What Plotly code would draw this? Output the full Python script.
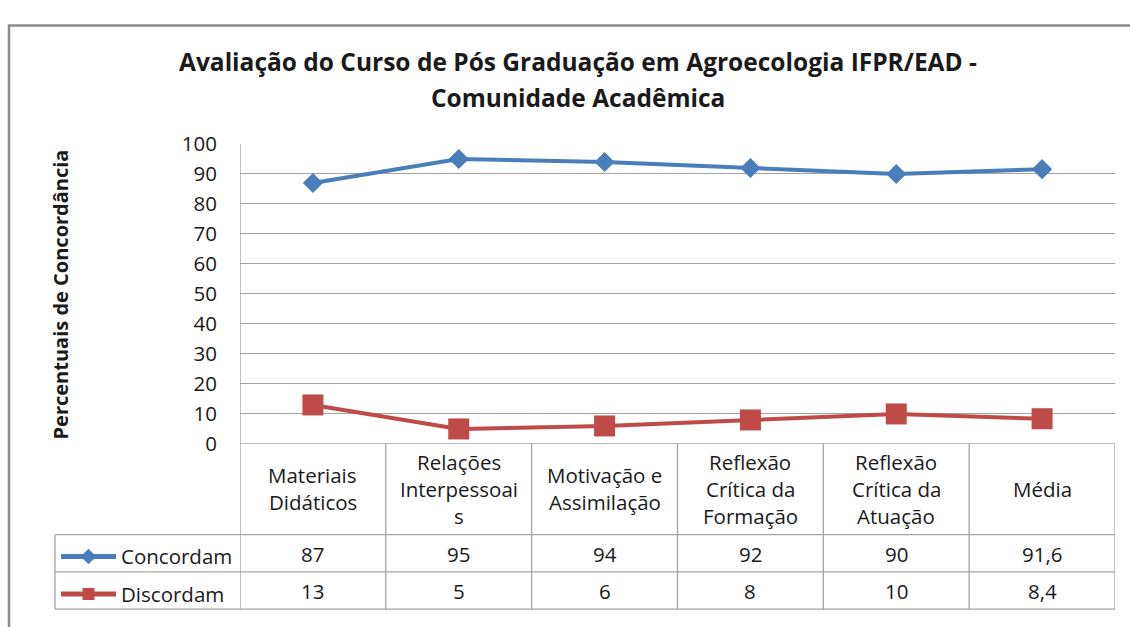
import plotly.graph_objects as go

# ---------------- data ----------------
categories = [
    "Materiais\nDidáticos",
    "Relações\nInterpessoai\ns",
    "Motivação e\nAssimilação",
    "Reflexão\nCrítica da\nFormação",
    "Reflexão\nCrítica da\nAtuação",
    "Média",
]
series_names = ["Concordam", "Discordam"]
concordam = [87, 95, 94, 92, 90, 91.6]
discordam = [13, 5, 6, 8, 10, 8.4]
y_ticks = [0, 10, 20, 30, 40, 50, 60, 70, 80, 90, 100]
title_lines = [
    "Avaliação do Curso de Pós Graduação em Agroecologia IFPR/EAD -",
    "Comunidade Acadêmica",
]
y_title = "Percentuais de Concordância"

# ---------------- styles ----------------
W, H = 1130, 627
FONT = "Open Sans"
TXT = "#1a1a1a"
GRID = "#a3a3a3"
BLUE = "#4a7ebb"
RED = "#be4b48"
FS = 20.5


def px(x):
    return x / W


def py(y):
    return 1 - y / H


def fmt(v):
    return f"{v:g}".replace(".", ",")


n = len(categories)
xs = list(range(n))
values = [concordam, discordam]
colors = [BLUE, RED]
symbols = ["diamond", "square"]
msizes = [15.5, 21]

fig = go.Figure()
for i, (name, vals) in enumerate(zip(series_names, values)):
    fig.add_trace(go.Scatter(
        x=xs, y=vals, name=name, mode="lines+markers",
        line=dict(color=colors[i], width=4),
        marker=dict(symbol=symbols[i], size=msizes[i], color=colors[i]),
        legendgroup=name,
        cliponaxis=False,
    ))

shapes = []
line_style = dict(color=GRID, width=1.3)
# outer frame
shapes.append(dict(type="rect", xref="paper", yref="paper",
                   x0=px(9), x1=1.1, y0=py(11), y1=-0.1,
                   line=dict(color="#8a8a8a", width=2.5), layer="below"))
# table top (x axis line)
shapes.append(dict(type="line", xref="x", yref="y", x0=-0.5, x1=n - 0.5,
                   y0=0, y1=0, line=line_style))
# vertical axis line through table
shapes.append(dict(type="line", xref="x", yref="paper", x0=-0.5, x1=-0.5,
                   y0=py(135), y1=py(622), line=line_style))
# vertical lines of the table
for k in range(1, n + 1):
    shapes.append(dict(type="line", xref="x", yref="paper", x0=k - 0.5, x1=k - 0.5,
                       y0=py(449), y1=py(622), line=line_style))
# horizontal rows of the data table
for yy in (544, 583, 622):
    shapes.append(dict(type="line", xref="paper", yref="paper",
                       x0=px(55), x1=px(1115), y0=py(yy), y1=py(yy), line=line_style))
# left border of the legend column
shapes.append(dict(type="line", xref="paper", yref="paper",
                   x0=px(55), x1=px(55), y0=py(544), y1=py(622), line=line_style))

annotations = []
# title
title_y = [49, 86]
for j, t in enumerate(title_lines):
    annotations.append(dict(text=f"<b>{t}</b>", xref="paper", yref="paper",
                            x=px(578), y=py(title_y[j]), showarrow=False,
                            xanchor="center", yanchor="middle",
                            font=dict(family=FONT, size=24.5, color=TXT)))
# y axis title
annotations.append(dict(text=f"<b>{y_title}</b>", xref="paper", yref="paper",
                        x=px(60), y=py(292.5), showarrow=False, textangle=-90,
                        xanchor="center", yanchor="middle",
                        font=dict(family=FONT, size=20, color=TXT)))
# category header cells
for i, cat in enumerate(categories):
    parts = cat.split("\n")
    m = len(parts)
    for j, p in enumerate(parts):
        ypix = 496 + (j - (m - 1) / 2) * 28.5
        annotations.append(dict(text=p, xref="x", yref="paper", x=i, y=py(ypix),
                                showarrow=False, xanchor="center", yanchor="middle",
                                font=dict(family=FONT, size=FS, color=TXT)))
# value cells
for r, vals in enumerate(values):
    ypix = 564 + r * 38.5
    for i, v in enumerate(vals):
        annotations.append(dict(text=fmt(v), xref="x", yref="paper", x=i, y=py(ypix),
                                showarrow=False, xanchor="center", yanchor="middle",
                                font=dict(family=FONT, size=FS, color=TXT)))

fig.update_layout(
    width=W, height=H,
    margin=dict(l=0, r=0, t=0, b=0),
    paper_bgcolor="white", plot_bgcolor="white",
    showlegend=True,
    legend=dict(x=px(56), y=py(546), xanchor="left", yanchor="top",
                font=dict(family=FONT, size=FS, color=TXT),
                itemwidth=55, itemsizing="constant",
                traceorder="grouped", tracegroupgap=8,
                bgcolor="rgba(0,0,0,0)", itemclick=False),
    xaxis=dict(domain=[px(240), px(1115)], range=[-0.5, n - 0.5],
               showticklabels=False, showgrid=False, zeroline=False,
               showline=False, fixedrange=True),
    yaxis=dict(domain=[py(449), py(135)], range=[0, 100],
               tickvals=y_ticks, ticktext=[str(t) for t in y_ticks],
               showgrid=True, gridcolor=GRID, gridwidth=1.3,
               zeroline=False, showline=False, ticks="", ticklabelstandoff=22,
               tickfont=dict(family=FONT, size=FS, color=TXT), fixedrange=True),
    shapes=shapes,
    annotations=annotations,
)

fig.write_html(
    "out.html",
    config={"displayModeBar": False},
    post_script=(
        "var d=document.getElementById('{plot_id}');"
        "d.style.position='fixed';d.style.left='0px';d.style.top='0px';"
        "document.body.style.margin='0';document.body.style.overflow='hidden';"
    ),
)
